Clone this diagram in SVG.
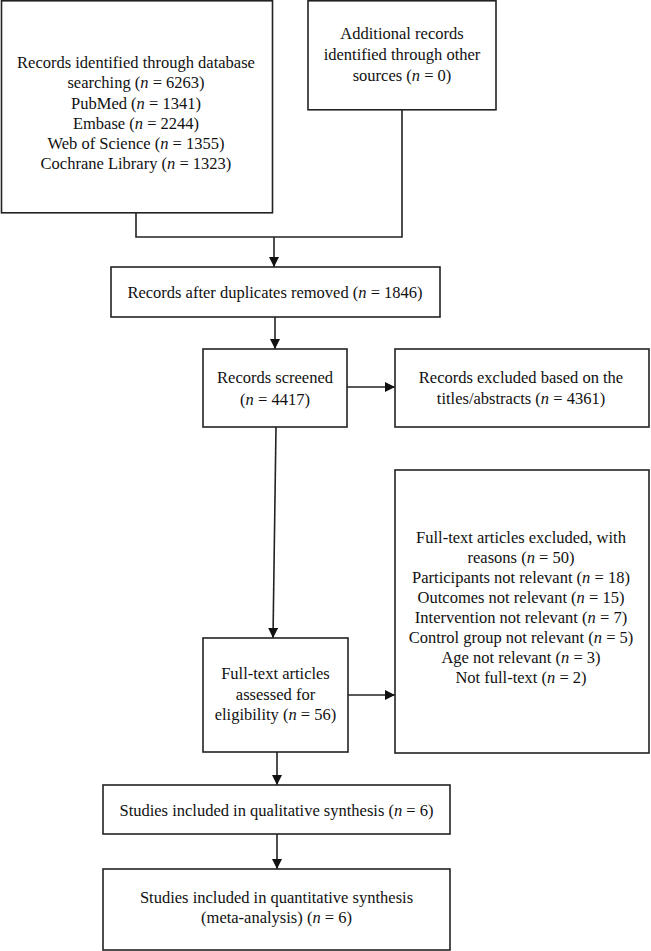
<svg xmlns="http://www.w3.org/2000/svg" width="651" height="951" viewBox="0 0 651 951">
<defs>
<style>
.box{fill:#fff;stroke:#222;stroke-width:1.6}
.t{font-family:"Liberation Serif","Times New Roman",serif;font-size:16.5px;fill:#111;text-anchor:middle}
.i{font-style:italic}
.c{fill:none;stroke:#222;stroke-width:1.6}
</style>
<marker id="ah" viewBox="0 0 10 10" refX="10" refY="5" markerWidth="10" markerHeight="10" markerUnits="userSpaceOnUse" orient="auto">
<path d="M0,0 L10,5 L0,10 z" fill="#111"/>
</marker>
</defs>
<rect width="651" height="951" fill="#fff"/>

<g id="connectors">
<polyline class="c" points="136,213 136,237 402,237 402,110"/>
<line class="c" x1="274" y1="237" x2="274" y2="267" marker-end="url(#ah)"/>
<line class="c" x1="275" y1="317" x2="275" y2="349" marker-end="url(#ah)"/>
<line class="c" x1="347" y1="387" x2="395" y2="387" marker-end="url(#ah)"/>
<line class="c" x1="276" y1="427" x2="273" y2="638" marker-end="url(#ah)"/>
<line class="c" x1="348" y1="695" x2="395" y2="695" marker-end="url(#ah)"/>
<line class="c" x1="277" y1="752" x2="277" y2="785" marker-end="url(#ah)"/>
<line class="c" x1="277" y1="834" x2="277" y2="869" marker-end="url(#ah)"/>
</g>

<g id="n1">
<rect class="box" x="1.5" y="0.8" width="271" height="212"/>
<text class="t" x="136" y="67.5">Records identified through database</text>
<text class="t" x="136" y="88">searching (<tspan class="i">n</tspan> = 6263)</text>
<text class="t" x="136" y="108.5">PubMed (<tspan class="i">n</tspan> = 1341)</text>
<text class="t" x="136" y="128.5">Embase (<tspan class="i">n</tspan> = 2244)</text>
<text class="t" x="136" y="148.5">Web of Science (<tspan class="i">n</tspan> = 1355)</text>
<text class="t" x="136" y="168.5">Cochrane Library (<tspan class="i">n</tspan> = 1323)</text>
</g>

<g id="n2">
<rect class="box" x="308" y="0.8" width="188" height="109"/>
<text class="t" x="402" y="38.5">Additional records</text>
<text class="t" x="402" y="59.5">identified through other</text>
<text class="t" x="402" y="80.5">sources (<tspan class="i">n</tspan> = 0)</text>
</g>

<g id="n3">
<rect class="box" x="111" y="267" width="329" height="50"/>
<text class="t" x="275" y="297.5">Records after duplicates removed (<tspan class="i">n</tspan> = 1846)</text>
</g>

<g id="n4">
<rect class="box" x="203" y="349" width="144" height="78"/>
<text class="t" x="275" y="383">Records screened</text>
<text class="t" x="275" y="405">(<tspan class="i">n</tspan> = 4417)</text>
</g>

<g id="n5">
<rect class="box" x="395" y="349" width="254" height="78"/>
<text class="t" x="521" y="383">Records excluded based on the</text>
<text class="t" x="521" y="404">titles/abstracts (<tspan class="i">n</tspan> = 4361)</text>
</g>

<g id="n6">
<rect class="box" x="395" y="470" width="254" height="283"/>
<text class="t" x="521" y="543">Full-text articles excluded, with</text>
<text class="t" x="521" y="563">reasons (<tspan class="i">n</tspan> = 50)</text>
<text class="t" x="521" y="583">Participants not relevant (<tspan class="i">n</tspan> = 18)</text>
<text class="t" x="521" y="603">Outcomes not relevant (<tspan class="i">n</tspan> = 15)</text>
<text class="t" x="521" y="623">Intervention not relevant (<tspan class="i">n</tspan> = 7)</text>
<text class="t" x="521" y="643">Control group not relevant (<tspan class="i">n</tspan> = 5)</text>
<text class="t" x="521" y="663">Age not relevant (<tspan class="i">n</tspan> = 3)</text>
<text class="t" x="521" y="683">Not full-text (<tspan class="i">n</tspan> = 2)</text>
</g>

<g id="n7">
<rect class="box" x="203" y="638" width="145" height="114"/>
<text class="t" x="275.5" y="679">Full-text articles</text>
<text class="t" x="275.5" y="699.5">assessed for</text>
<text class="t" x="275.5" y="720">eligibility (<tspan class="i">n</tspan> = 56)</text>
</g>

<g id="n8">
<rect class="box" x="103" y="785" width="347" height="49"/>
<text class="t" x="276.5" y="815.5">Studies included in qualitative synthesis (<tspan class="i">n</tspan> = 6)</text>
</g>

<g id="n9">
<rect class="box" x="103" y="869" width="347" height="81"/>
<text class="t" x="276.5" y="903">Studies included in quantitative synthesis</text>
<text class="t" x="276.5" y="923">(meta-analysis) (<tspan class="i">n</tspan> = 6)</text>
</g>
</svg>
